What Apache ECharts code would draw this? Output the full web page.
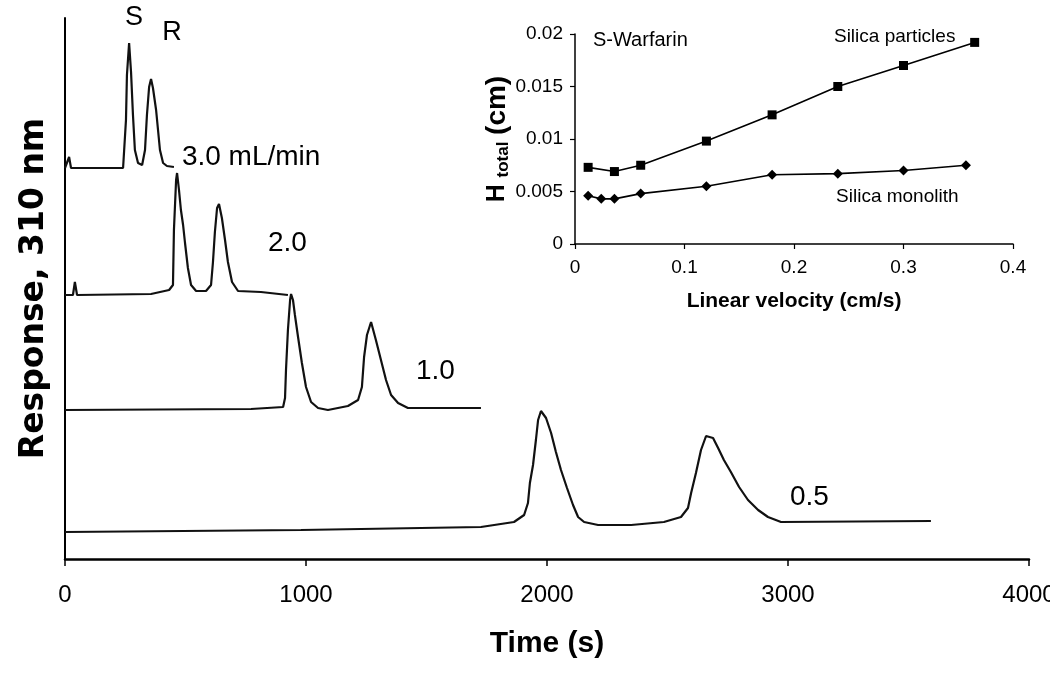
<!DOCTYPE html>
<html>
<head>
<meta charset="utf-8">
<script src="https://cdn.jsdelivr.net/npm/echarts@6/dist/echarts.min.js"></script>
<style>html,body{margin:0;padding:0;background:#fff}#c{width:1050px;height:673px}</style>
</head>
<body>
<div id="c"></div>
<script>
// ---- Main chromatograms: [time (s), response (arbitrary, stacked)] ----
const flowLabels = ['3.0 mL/min', '2.0', '1.0', '0.5'];
const trace30 = [[0,391],[8,391],[17,402],[25,391],[241,391],[245,393],[253,439],[257,484],[266,516],[274,487],[282,444],[290,409],[303,396],[320,394],[332,409],[340,444],[349,472],[357,480],[365,471],[378,449],[386,429],[394,409],[407,396],[423,393],[452,392]];
const trace20 = [[0,264],[33,264],[41,277],[50,264],[357,265],[432,269],[448,274],[452,329],[461,379],[465,386],[473,369],[481,349],[490,334],[498,316],[510,291],[523,274],[544,268],[585,268],[606,274],[614,297],[622,327],[631,351],[639,355],[651,341],[664,319],[676,297],[693,277],[718,268],[813,267],[925,264]];
const trace10 = [[0,149],[772,150],[905,152],[913,161],[917,189],[925,229],[934,259],[938,265],[946,259],[954,244],[967,222],[983,196],[1000,172],[1021,157],[1050,151],[1091,149],[1174,153],[1216,159],[1232,172],[1241,202],[1253,224],[1270,237],[1290,219],[1311,199],[1332,179],[1353,164],[1382,156],[1423,151],[1726,151]];
const trace05 = [[0,27],[979,29],[1726,32],[1863,37],[1905,44],[1921,56],[1929,76],[1942,94],[1954,119],[1963,139],[1975,148],[1996,141],[2017,126],[2037,107],[2058,89],[2083,71],[2108,54],[2129,42],[2154,37],[2212,34],[2349,34],[2485,37],[2556,42],[2585,51],[2598,66],[2618,86],[2639,109],[2660,123],[2689,121],[2710,111],[2734,99],[2763,87],[2797,72],[2834,59],[2876,49],[2917,42],[2971,37],[3593,38]];
const peakNames = ['S', 'R'];

// ---- Inset: plate height vs linear velocity ----
const velocityParticles = [0.012, 0.036, 0.06, 0.12, 0.18, 0.24, 0.30, 0.365];
const hParticles = [0.0073, 0.0069, 0.0075, 0.0098, 0.0123, 0.0150, 0.0170, 0.0192];
const velocityMonolith = [0.012, 0.024, 0.036, 0.06, 0.12, 0.18, 0.24, 0.30, 0.357];
const hMonolith = [0.0046, 0.0043, 0.0043, 0.0048, 0.0055, 0.0066, 0.0067, 0.0070, 0.0075];

const FONT = "'Liberation Sans', Arial, sans-serif";

function zip(xs, ys) { return xs.map((x, i) => [x, ys[i]]); }

function annots(items, fontSize, extra) {
  return {
    symbol: 'circle', symbolSize: 0, silent: true,
    itemStyle: { color: 'transparent' },
    label: Object.assign({ show: true, position: 'inside', color: '#000', fontFamily: FONT, fontSize: fontSize, align: 'left', verticalAlign: 'middle' }, extra || {}),
    data: items.map(it => ({ coord: it.coord, value: 0, label: Object.assign({ formatter: it.text }, it.label || {}) }))
  };
}

const plain = v => String(v);
const traceLine = { color: '#111', width: 2.2 };

const option = {
  animation: false,
  backgroundColor: '#fff',
  grid: [
    { left: 65, right: 21, top: 18, bottom: 114, outerBoundsMode: 'none', containLabel: false },
    { left: 575, right: 37, top: 34, bottom: 429, outerBoundsMode: 'none', containLabel: false }
  ],
  xAxis: [
    {
      gridIndex: 0, type: 'value', min: 0, max: 4000, interval: 1000,
      name: 'Time (s)', nameLocation: 'middle', nameGap: 70,
      nameTextStyle: { fontFamily: FONT, fontSize: 30, fontWeight: 'bold', color: '#000' },
      axisLine: { show: true, onZero: false, lineStyle: { color: '#000', width: 2.5 } },
      axisTick: { show: true, inside: false, length: 7, lineStyle: { color: '#000', width: 1.5 } },
      axisLabel: { show: true, margin: 24, fontFamily: FONT, fontSize: 24, color: '#000', formatter: plain, hideOverlap: false },
      splitLine: { show: false }
    },
    {
      gridIndex: 1, type: 'value', min: 0, max: 0.4, interval: 0.1,
      name: 'Linear velocity (cm/s)', nameLocation: 'middle', nameGap: 47,
      nameTextStyle: { fontFamily: FONT, fontSize: 21, fontWeight: 'bold', color: '#000' },
      axisLine: { show: true, onZero: false, lineStyle: { color: '#000', width: 1.5 } },
      axisTick: { show: true, inside: false, length: 5, lineStyle: { color: '#000', width: 1.2 } },
      axisLabel: { show: true, margin: 14, fontFamily: FONT, fontSize: 19, color: '#000', formatter: plain },
      splitLine: { show: false }
    }
  ],
  yAxis: [
    {
      gridIndex: 0, type: 'value', min: 0, max: 541,
      name: 'Response, 310 nm', nameLocation: 'middle', nameGap: 14,
      nameTextStyle: { fontFamily: "'DejaVu Sans', Verdana, sans-serif", fontSize: 33, fontWeight: 'bold', color: '#000' },
      axisLine: { show: true, onZero: false, lineStyle: { color: '#000', width: 2 } },
      axisTick: { show: false },
      axisLabel: { show: false },
      splitLine: { show: false }
    },
    {
      gridIndex: 1, type: 'value', min: 0, max: 0.02, interval: 0.005,
      name: '{b|H}  {s|total}  {c|(cm)}', nameLocation: 'middle', nameGap: 62,
      nameTextStyle: {
        color: '#000', fontFamily: FONT,
        rich: {
          b: { fontFamily: FONT, fontSize: 25, fontWeight: 'bold', color: '#000' },
          s: { fontFamily: FONT, fontSize: 17, fontWeight: 'bold', color: '#000', verticalAlign: 'bottom' },
          c: { fontFamily: FONT, fontSize: 28, fontWeight: 'bold', color: '#000' }
        }
      },
      axisLine: { show: true, onZero: false, lineStyle: { color: '#000', width: 1.5 } },
      axisTick: { show: true, inside: false, length: 5, lineStyle: { color: '#000', width: 1.2 } },
      axisLabel: { show: true, margin: 12, fontFamily: FONT, fontSize: 19, color: '#000', formatter: plain },
      splitLine: { show: false }
    }
  ],
  series: [
    {
      name: flowLabels[0], type: 'line', xAxisIndex: 0, yAxisIndex: 0, data: trace30,
      showSymbol: false, symbol: 'none', lineStyle: traceLine, clip: false,
      markPoint: annots([
        { text: peakNames[0], coord: [286, 541], label: { align: 'center', fontSize: 27 } },
        { text: peakNames[1], coord: [444, 526], label: { align: 'center', fontSize: 27 } },
        { text: flowLabels[0], coord: [485, 402] }
      ], 28)
    },
    {
      name: flowLabels[1], type: 'line', xAxisIndex: 0, yAxisIndex: 0, data: trace20,
      showSymbol: false, symbol: 'none', lineStyle: traceLine,
      markPoint: annots([{ text: flowLabels[1], coord: [842, 316] }], 28)
    },
    {
      name: flowLabels[2], type: 'line', xAxisIndex: 0, yAxisIndex: 0, data: trace10,
      showSymbol: false, symbol: 'none', lineStyle: traceLine,
      markPoint: annots([{ text: flowLabels[2], coord: [1456, 188] }], 28)
    },
    {
      name: flowLabels[3], type: 'line', xAxisIndex: 0, yAxisIndex: 0, data: trace05,
      showSymbol: false, symbol: 'none', lineStyle: traceLine,
      markPoint: annots([{ text: flowLabels[3], coord: [3008, 62] }], 28)
    },
    {
      name: 'Silica particles', type: 'line', xAxisIndex: 1, yAxisIndex: 1,
      data: zip(velocityParticles, hParticles),
      symbol: 'rect', symbolSize: 9, showSymbol: true,
      itemStyle: { color: '#000' }, lineStyle: { color: '#000', width: 1.6 },
      markPoint: annots([
        { text: 'S-Warfarin', coord: [0.0164, 0.01943], label: { fontSize: 20 } },
        { text: 'Silica particles', coord: [0.2365, 0.01971] }
      ], 19)
    },
    {
      name: 'Silica monolith', type: 'line', xAxisIndex: 1, yAxisIndex: 1,
      data: zip(velocityMonolith, hMonolith),
      symbol: 'diamond', symbolSize: 10, showSymbol: true,
      itemStyle: { color: '#000' }, lineStyle: { color: '#000', width: 1.6 },
      markPoint: annots([
        { text: 'Silica monolith', coord: [0.2384, 0.00448] }
      ], 19)
    }
  ]
};

const chart = echarts.init(document.getElementById('c'));
chart.setOption(option);
</script>
</body>
</html>
